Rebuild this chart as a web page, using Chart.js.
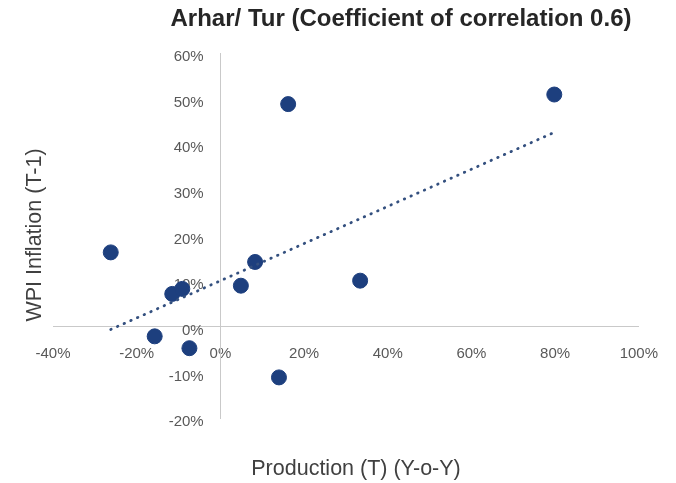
<!DOCTYPE html>
<html lang="en">
<head>
  <meta charset="UTF-8" />
  <title>Arhar/ Tur</title>
  <script src="https://cdn.jsdelivr.net/npm/chart.js"></script>
  <style>
    body { margin: 0; background: #fff; }
    #wrap { width: 676px; height: 483px; position: relative; }
  </style>
</head>
<body>
  <div id="wrap"><canvas id="scatter"></canvas></div>

  <script>
    // values, in %
    const production = [-26.2, -11.5, -9.1, 4.9, 8.3, -15.7, -7.4, 16.2, 79.8, 33.4, 14.0];
    const wpiInflation = [16.3, 7.2, 8.3, 9.0, 14.2, -2.1, -4.7, 48.8, 50.9, 10.1, -11.1];
    const trendX = [-26.2, 79.8];
    const trendY = [-0.6, 42.6];
    const xTicks = [-40, -20, 0, 20, 40, 60, 80, 100];
    const yTicks = [-20, -10, 0, 10, 20, 30, 40, 50, 60];

    const chartTitle = 'Arhar/ Tur (Coefficient of correlation 0.6)';
    const xTitle = 'Production (T) (Y-o-Y)';
    const yTitle = 'WPI Inflation (T-1)';

    const points = production.map((x, i) => ({ x, y: wpiInflation[i] }));
    const trend = trendX.map((x, i) => ({ x, y: trendY[i] }));

    const FONT = "'Liberation Sans', Arial, sans-serif";

    // titles are drawn by hand so they sit where the original has them
    const textPlugin = {
      id: 'texts',
      afterDraw(chart) {
        const c = chart.ctx;
        c.save();
        c.textAlign = 'center';
        c.textBaseline = 'middle';
        c.fillStyle = '#262626';
        c.font = 'bold 24px ' + FONT;
        c.fillText(chartTitle, 401, 19);
        c.fillStyle = '#404040';
        c.font = '21.5px ' + FONT;
        c.fillText(xTitle, 356, 469);
        c.translate(35, 235);
        c.rotate(-Math.PI / 2);
        c.fillText(yTitle, 0, 0);
        c.restore();
      }
    };

    new Chart(document.getElementById('scatter'), {
      type: 'scatter',
      data: {
        datasets: [
          {
            type: 'line',
            label: 'Trend',
            data: trend,
            borderColor: '#34507f',
            borderWidth: 2.8,
            borderDash: [0.5, 6.8],
            borderCapStyle: 'round',
            pointRadius: 0,
            fill: false
          },
          {
            label: 'Arhar/ Tur',
            data: points,
            backgroundColor: '#1d3f7e',
            borderColor: '#1d3f7e',
            pointRadius: 7.5,
            pointHoverRadius: 7.5
          }
        ]
      },
      options: {
        responsive: true,
        maintainAspectRatio: false,
        animation: false,
        layout: { padding: { left: 53, right: 34, top: 53, bottom: 65 } },
        plugins: {
          legend: { display: false },
          tooltip: { enabled: false }
        },
        scales: {
          x: {
            type: 'linear',
            position: { y: 0 },
            min: xTicks[0],
            max: xTicks[xTicks.length - 1],
            afterBuildTicks: s => { s.ticks = xTicks.map(v => ({ value: v })); },
            grid: { display: false, drawTicks: false },
            border: { display: true, color: '#c9c9c9', width: 1 },
            ticks: {
              padding: 18,
              color: '#595959',
              font: { family: FONT, size: 15 },
              maxRotation: 0,
              callback: v => v + '%'
            }
          },
          y: {
            type: 'linear',
            position: { x: 0 },
            min: yTicks[0],
            max: yTicks[yTicks.length - 1],
            afterBuildTicks: s => { s.ticks = yTicks.map(v => ({ value: v })); },
            grid: { display: false, drawTicks: false },
            border: { display: true, color: '#c9c9c9', width: 1 },
            ticks: {
              labelOffset: 4,
              color: '#595959',
              font: { family: FONT, size: 15 },
              // the centred y axis ignores tick padding, so keep a gap after the label
              callback: v => v + '%    '
            }
          }
        }
      },
      plugins: [textPlugin]
    });
  </script>
</body>
</html>
